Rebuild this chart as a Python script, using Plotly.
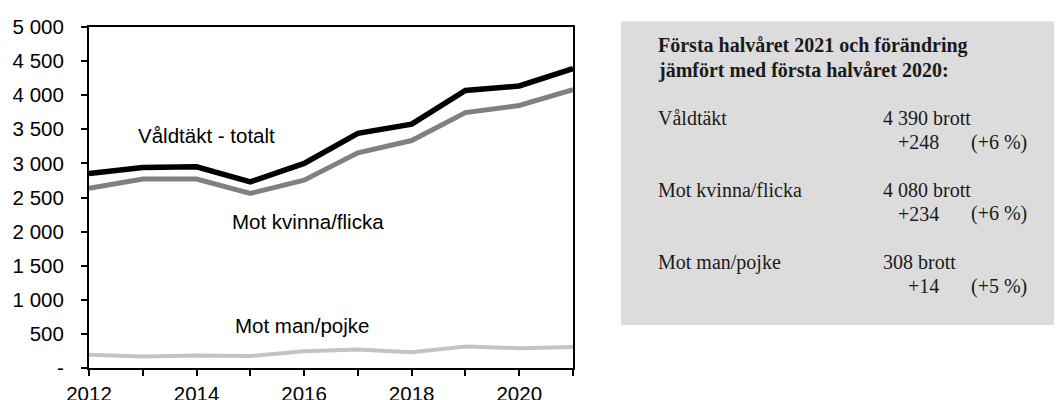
import plotly.graph_objects as go

years = list(range(2012, 2022))
total = [2850, 2940, 2950, 2730, 3000, 3440, 3575, 4070, 4135, 4390]
kvinna = [2635, 2770, 2770, 2560, 2755, 3155, 3335, 3745, 3850, 4080]
man = [195, 170, 185, 175, 245, 270, 232, 315, 290, 308]

ytick_vals = [0, 500, 1000, 1500, 2000, 2500, 3000, 3500, 4000, 4500, 5000]
ytick_text = ["-", "500", "1 000", "1 500", "2 000", "2 500", "3 000", "3 500", "4 000", "4 500", "5 000"]
xtick_text = [str(y) if y % 2 == 0 else "" for y in years]

box_title = ["Första halvåret 2021 och förändring", "jämfört med första halvåret 2020:"]
box_labels = ["Våldtäkt", "Mot kvinna/flicka", "Mot man/pojke"]
box_counts = ["4 390 brott", "4 080 brott", "308 brott"]
box_changes = ["+248", "+234", "+14"]
box_pcts = ["(+6 %)", "(+6 %)", "(+5 %)"]

OFF = 8  # page body margin
W, H = 1062, 392
L, R, T, B = 88.5, 573, 27, 368  # plot area in screenshot pixels

def px(x):
    return (x - L) / (R - L)

def py(y):
    return (B - y) / (B - T)

fig = go.Figure()
fig.add_trace(go.Scatter(x=years, y=man, mode="lines", line=dict(color="#c3c3c3", width=4), hoverinfo="skip"))
fig.add_trace(go.Scatter(x=years, y=kvinna, mode="lines", line=dict(color="#808080", width=5), hoverinfo="skip"))
fig.add_trace(go.Scatter(x=years, y=total, mode="lines", line=dict(color="#000000", width=5.5), hoverinfo="skip"))

chart_font = dict(family="Liberation Sans, Arial, sans-serif", size=20.5, color="black")
serif = "Liberation Serif, Times New Roman, serif"

annotations = [
    dict(text="Våldtäkt - totalt", x=px(136), y=py(135.5)),
    dict(text="Mot kvinna/flicka", x=px(230), y=py(222)),
    dict(text="Mot man/pojke", x=px(233), y=py(325)),
]
for a in annotations:
    a.update(xref="paper", yref="paper", xanchor="left", yanchor="middle", showarrow=False, font=chart_font)

bfont = dict(family=serif, size=20, color="#1a1a1a")
for i, t in enumerate(box_title):
    annotations.append(dict(text="<b>" + t + "</b>", x=px(656), y=py(46 + 24 * i), xref="paper", yref="paper",
                            xanchor="left", yanchor="middle", showarrow=False, font=bfont))
rows_y = [118, 190, 262]
for i in range(3):
    y0 = rows_y[i]
    annotations.append(dict(text=box_labels[i], x=px(656), y=py(y0), xref="paper", yref="paper",
                            xanchor="left", yanchor="middle", showarrow=False, font=bfont))
    annotations.append(dict(text=box_counts[i], x=px(881), y=py(y0), xref="paper", yref="paper",
                            xanchor="left", yanchor="middle", showarrow=False, font=bfont))
    annotations.append(dict(text=box_changes[i], x=px(941), y=py(y0 + 24), xref="paper", yref="paper",
                            xanchor="right", yanchor="middle", showarrow=False, font=bfont))
    annotations.append(dict(text=box_pcts[i], x=px(1029), y=py(y0 + 24), xref="paper", yref="paper",
                            xanchor="right", yanchor="middle", showarrow=False, font=bfont))

fig.update_layout(
    width=W, height=H,
    margin=dict(l=L - OFF, r=W - (R - OFF), t=T - OFF, b=H - (B - OFF), pad=0, autoexpand=False),
    paper_bgcolor="white", plot_bgcolor="white",
    showlegend=False,
    annotations=annotations,
    shapes=[dict(type="rect", xref="paper", yref="paper", x0=px(621), x1=px(1075), y0=py(325), y1=py(21.5),
                 fillcolor="#dcdcdc", line=dict(width=0), layer="below")],
    xaxis=dict(range=[2012, 2021], tickvals=years, ticktext=xtick_text, showgrid=False, zeroline=False,
               showline=True, linecolor="black", linewidth=2, mirror=True, automargin=False,
               ticks="outside", ticklen=6, tickwidth=2, tickcolor="black", tickfont=chart_font,
               ticklabelstandoff=0),
    yaxis=dict(range=[0, 5000], tickvals=ytick_vals, ticktext=ytick_text, showgrid=False, zeroline=False,
               showline=True, linecolor="black", linewidth=2, mirror=True, automargin=False,
               ticks="outside", ticklen=6, tickwidth=2, tickcolor="black", tickfont=chart_font,
               ticklabelstandoff=13),
)

fig.write_html("out.html")
